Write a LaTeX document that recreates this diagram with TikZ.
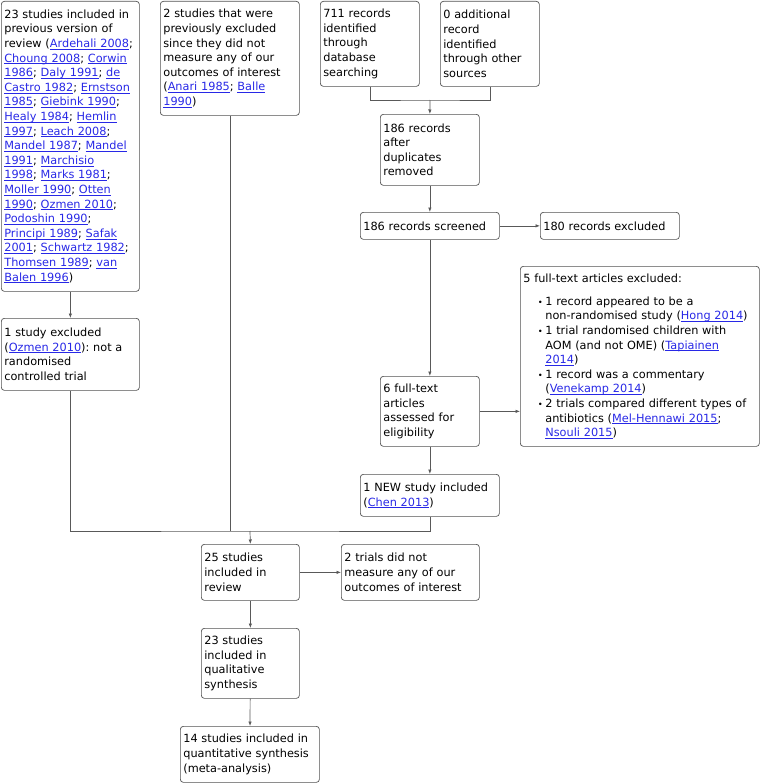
\documentclass[tikz,border=0pt]{standalone}
\usepackage{fontspec}
\setmainfont{DejaVu Sans}
\usepackage{tikz}
\usetikzlibrary{arrows.meta,positioning}
\usepackage{xcolor}
\frenchspacing
\definecolor{linkblue}{RGB}{40,40,230}
\colorlet{boxline}{black!68}
\colorlet{conline}{black!65}
\newsavebox{\lkbox}
\newcommand{\lk}[1]{\textcolor{linkblue}{\sbox{\lkbox}{#1}\rlap{\rule[-1.8pt]{\wd\lkbox}{0.6pt}}\usebox{\lkbox}}}
\newcommand{\itm}{\hspace*{22pt}\llap{\scalebox{0.75}{\textbullet}\hspace{2.5pt}}}
\newcommand{\cnt}{\hspace*{22pt}}
\tikzstyle{box}=[draw=boxline,line width=0.7pt,rounded corners=3pt,anchor=north west,align=left,inner xsep=3pt,inner ysep=4pt,font=\fontsize{11.3}{14.6}\selectfont]
\tikzstyle{link}=[conline,line width=0.7pt]
\tikzstyle{flow}=[link,-{Latex[length=4.5pt,width=3.5pt]}]

\begin{document}
\begin{tikzpicture}[x=1pt,y=1pt]
  \useasboundingbox (0,0) rectangle (761,-784);

  % previous review column
  \node[box,text width=132pt,minimum height=290pt] (prev) at (1,-1)
    {23 studies included in\\
     previous version of\\
     review (\lk{Ardehali 2008};\\
     \lk{Choung 2008}; \lk{Corwin}\\
     \lk{1986}; \lk{Daly 1991}; \lk{de}\\
     \lk{Castro 1982}; \lk{Ernstson}\\
     \lk{1985}; \lk{Giebink 1990};\\
     \lk{Healy 1984}; \lk{Hemlin}\\
     \lk{1997}; \lk{Leach 2008};\\
     \lk{Mandel 1987}; \lk{Mandel}\\
     \lk{1991}; \lk{Marchisio}\\
     \lk{1998}; \lk{Marks 1981};\\
     \lk{Moller 1990}; \lk{Otten}\\
     \lk{1990}; \lk{Ozmen 2010};\\
     \lk{Podoshin 1990};\\
     \lk{Principi 1989}; \lk{Safak}\\
     \lk{2001}; \lk{Schwartz 1982};\\
     \lk{Thomsen 1989}; \lk{van}\\
     \lk{Balen 1996})};
  \node[box,text width=132pt,minimum height=72pt] (ozmen) at (1,-318)
    {1 study excluded\\(\lk{Ozmen 2010}): not a\\randomised\\controlled trial};
  \node[box,text width=133pt,minimum height=114pt] (prevexcl) at (160,-1)
    {2 studies that were\\previously excluded\\since they did not\\measure any of our\\outcomes of interest\\(\lk{Anari 1985}; \lk{Balle}\\\lk{1990})};

  % search and screening
  \node[box,text width=93pt,minimum height=85pt] (dbsearch) at (320,-1)
    {711 records\\identified\\through\\database\\searching};
  \node[box,text width=93pt,minimum height=85pt] (other) at (440,-1)
    {0 additional\\record\\identified\\through other\\sources};
  \node[box,text width=93pt,minimum height=71pt] (dedup) at (380,-114)
    {186 records\\after\\duplicates\\removed};
  \node[box,text width=133pt,minimum height=27pt] (screened) at (360,-212)
    {186 records screened};
  \node[box,text width=133pt,minimum height=27pt] (recexcl) at (540,-212)
    {180 records excluded};
  \node[box,text width=93pt,minimum height=70pt] (fulltext) at (380,-376)
    {6 full-text\\articles\\assessed for\\eligibility};
  \node[box,text width=233pt,minimum height=180pt] (ftexcl) at (520,-266)
    {5 full-text articles excluded:\\[8pt]
     \itm 1 record appeared to be a\\
     \cnt non-randomised study (\lk{Hong 2014})\\
     \itm 1 trial randomised children with\\
     \cnt AOM (and not OME) (\lk{Tapiainen}\\
     \cnt \lk{2014})\\
     \itm 1 record was a commentary\\
     \cnt (\lk{Venekamp 2014})\\
     \itm 2 trials compared different types of\\
     \cnt antibiotics (\lk{Mel-Hennawi 2015};\\
     \cnt \lk{Nsouli 2015})};
  \node[box,text width=133pt,minimum height=42pt] (newstudy) at (360,-474)
    {1 NEW study included\\(\lk{Chen 2013})};

  % included
  \node[box,text width=92pt,minimum height=56pt] (review) at (201,-544)
    {25 studies\\included in\\review};
  \node[box,text width=132pt,minimum height=56pt] (notmeasure) at (341,-544)
    {2 trials did not\\measure any of our\\outcomes of interest};
  \node[box,text width=92pt,minimum height=70pt] (qual) at (201,-628)
    {23 studies\\included in\\qualitative\\synthesis};
  \node[box,text width=133pt,minimum height=56pt] (quant) at (180,-726)
    {14 studies included in\\quantitative synthesis\\(meta-analysis)};

  \coordinate (merge) at (430,-100);
  \coordinate (join) at (250,-531);

  \draw[link] (dbsearch.south) |- (merge) -| (other.south);
  \draw[flow] (merge) -- (dedup.north);
  \draw[flow] (dedup) -- (screened);
  \draw[flow] (screened) -- (recexcl);
  \draw[flow] (screened) -- (fulltext);
  \draw[flow] (fulltext.east) -- (fulltext.east -| ftexcl.west);
  \draw[flow] (fulltext) -- (newstudy);
  \draw[flow] (prev) -- (ozmen);
  \draw[link] (ozmen.south) |- (join) -| (newstudy.south);
  \draw[link] (prevexcl.south) -- (prevexcl.south |- join);
  \draw[flow] (join) -- (review.north);
  \draw[flow] (review) -- (notmeasure);
  \draw[flow] (review) -- (qual);
  \draw[flow] (qual) -- (quant);
\end{tikzpicture}
\end{document}
